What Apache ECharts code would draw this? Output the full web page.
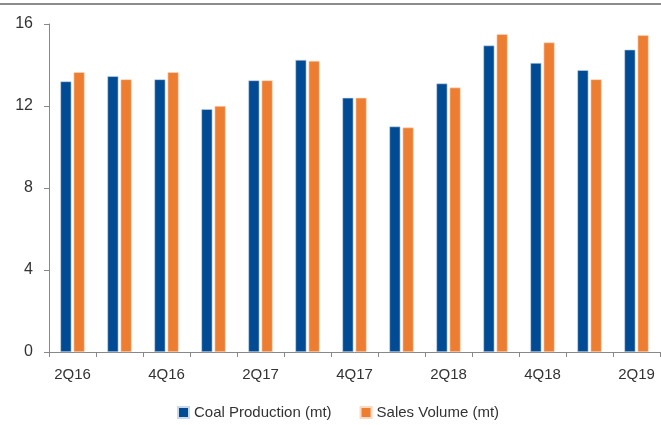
<!DOCTYPE html>
<html>
<head>
<meta charset="utf-8">
<script src="https://cdn.jsdelivr.net/npm/echarts@6/dist/echarts.min.js"></script>
<style>
  html, body { margin: 0; padding: 0; background: #fff; }
  #chart { width: 661px; height: 425px; }
</style>
</head>
<body>
<div id="chart"></div>
<script>
  // quarters
  var quarters = ['2Q16', '3Q16', '4Q16', '1Q17', '2Q17', '3Q17', '4Q17',
                  '1Q18', '2Q18', '3Q18', '4Q18', '1Q19', '2Q19'];

  // coal production (mt)
  var coalProduction = [13.2, 13.45, 13.3, 11.85, 13.25, 14.25, 12.4,
                        11.0, 13.1, 14.95, 14.1, 13.75, 14.75];

  // sales volume (mt)
  var salesVolume = [13.65, 13.3, 13.65, 12.0, 13.25, 14.2, 12.4,
                     10.95, 12.9, 15.5, 15.1, 13.3, 15.45];

  var yTicks = [0, 4, 8, 12, 16];

  var myChart = echarts.init(document.getElementById('chart'));

  var option = {
    animation: false,
    textStyle: { fontFamily: 'Liberation Sans, Arial, sans-serif' },

    // thin rule across the top
    graphic: [{
      type: 'line',
      shape: { x1: 0, y1: 4, x2: 661, y2: 4 },
      style: { stroke: '#8c8c8c', lineWidth: 2 }
    }],

    grid: { left: 49, right: 1, top: 24, bottom: 73 },

    legend: {
      top: 400,
      left: 172,
      itemWidth: 11,
      itemHeight: 11,
      itemGap: 28,
      icon: 'rect',
      textStyle: { color: '#333', fontSize: 15, fontFamily: 'Liberation Sans, Arial, sans-serif' },
      data: ['Coal Production (mt)', 'Sales Volume (mt)']
    },

    xAxis: [{
      type: 'category',
      data: quarters,
      boundaryGap: true,
      axisLine: { show: true, lineStyle: { color: '#888', width: 1 } },
      axisTick: { show: true, alignWithLabel: false, interval: 0, length: 5, lineStyle: { color: '#888' } },
      axisLabel: { interval: 1, color: '#333', fontSize: 15, margin: 15 },
      splitLine: { show: false }
    }],

    yAxis: [{
      type: 'value',
      min: yTicks[0],
      max: yTicks[yTicks.length - 1],
      interval: 4,
      axisLine: { show: true, lineStyle: { color: '#888', width: 1 } },
      axisTick: { show: true, length: 5, lineStyle: { color: '#888' } },
      axisLabel: { color: '#333', fontSize: 16, margin: 16 },
      splitLine: { show: false }
    }],

    series: [
      {
        name: 'Coal Production (mt)',
        type: 'bar',
        barWidth: 11,
        barGap: '20%',
        itemStyle: { color: '#004b93', borderColor: '#c9d8ea', borderWidth: 0.6 },
        data: coalProduction
      },
      {
        name: 'Sales Volume (mt)',
        type: 'bar',
        barWidth: 11,
        barGap: '20%',
        itemStyle: { color: '#ed7d31', borderColor: '#fbd9c2', borderWidth: 0.6 },
        data: salesVolume
      }
    ]
  };

  myChart.setOption(option);
</script>
</body>
</html>
